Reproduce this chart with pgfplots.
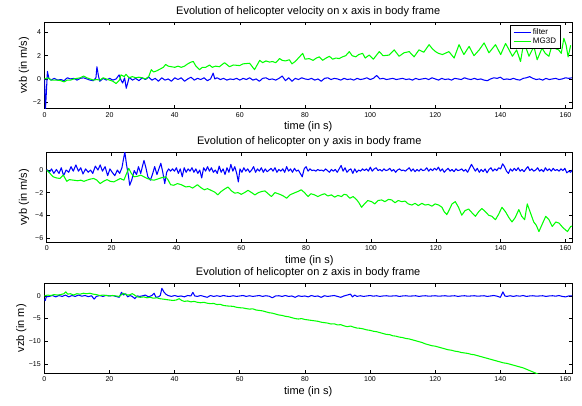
\documentclass[border=0pt]{standalone}
\usepackage{fontspec}
\setmainfont{Liberation Sans}
\usepackage{pgfplots}
\pgfplotsset{compat=1.18}
\definecolor{mblue}{rgb}{0,0,1}
\definecolor{mgreen}{rgb}{0,1,0}
\pgfplotsset{
  myax/.style={
    scale only axis, anchor=south west,
    xmin=0, xmax=162, xtick={0,20,...,160},
    tick align=inside, major tick length=3.3pt,
    tick style={black, line width=0.5pt},
    axis line style={line width=0.8pt},
    ticklabel style={font=\fontsize{7}{8}\selectfont},
    /pgf/number format/assume math mode=true,
    label style={font=\fontsize{11}{13}\selectfont},
    title style={font=\fontsize{11}{13}\selectfont, at={(axis description cs:0.5,1)}, anchor=south, yshift=-4.5pt},
    xlabel style={at={(axis description cs:0.5,0)}, anchor=center, yshift=-18pt},
    every axis plot/.append style={line width=1.05pt, line join=round},
    xlabel={time (in s)},
  }
}
\begin{document}
\begin{tikzpicture}
\useasboundingbox (0,0) rectangle (582pt,405pt);
% ---------------- plot 1 ----------------
\begin{axis}[myax, at={(44.5pt,296.3pt)}, width=527.5pt, height=86.7pt,
  ymin=-2.56, ymax=4.9, ytick={-2,0,2,4}, yticklabels={−2,0,2,4},
  title={Evolution of helicopter velocity on x axis in body frame},
  ylabel={vxb (in m/s)},
  ylabel style={at={(axis description cs:-0.0389,0.5)}, anchor=center},
  legend style={at={(axis description cs:1,1)}, anchor=north east, xshift=-11pt, yshift=-3pt,
    font=\fontsize{8}{9}\selectfont, draw=black, line width=0.8pt, inner xsep=2.5pt, inner ysep=1pt,
    row sep=-1.5pt, cells={anchor=west}},
  legend image code/.code={\draw[#1, line width=0.9pt] (0pt,0pt) -- (17pt,0pt);},
]
\addplot[mblue] coordinates {
(0,0) (0.3,-2.6) (0.6,-1.0) (0.9,0.65) (1.3,0.1) (2,-0.1) (3,0.05) (4,-0.1) (5,-0.05) (6,-0.15) (7,0.1) (8,0.0) (9,0.05) (10,-0.1) (11,0.05) (12,0.1) (13,0.0) (14,-0.1) (15,-0.15) (15.8,0.1) (16.1,1.05) (16.6,0.2) (17,-0.2) (18,0.05) (19,-0.1) (20,0.05) (21,-0.1) (22,0.0) (22.9,0.35) (23.5,-0.1) (24,-0.35) (24.6,0.1) (25.1,-0.8) (25.6,-0.3) (26,0.15) (27,-0.1) (28,0.05) (29,-0.15) (30,0.1) (31,-0.05) (32,0.15) (33,-0.1) (34,0.05) (35,-0.2) (36,0.1) (37,-0.1) (38,0.0) (39,-0.2) (40,0.1) (41,-0.05) (42,0.1) (43,-0.2) (44,0.0) (45,0.15) (46,-0.1) (47,0.05) (48,-0.05) (49,0.1) (50,-0.15) (51,0.0) (51.8,0.5) (52.3,0.0) (53,0.1) (54,-0.05) (55,0.05) (56,-0.1) (57,0.0) (58,-0.05) (59,0.05) (60,-0.1) (61,0.05) (62,-0.05) (63,0.1) (64,-0.1) (65,0.0) (66,-0.2) (67,0.05) (68,0.1) (69,-0.05) (70,0.0) (71,-0.1) (72,0.05) (73,0.25) (74,-0.15) (75,0.1) (76,-0.2) (77,0.05) (78,-0.05) (79,0.1) (80,0.0) (81,-0.05) (82,0.05) (83,-0.1) (84,0.0) (85,-0.2) (86,0.05) (87,0.1) (88,-0.05) (89,0.05) (90,0.0) (91,-0.1) (92,0.05) (93,-0.05) (94,0.0) (95,-0.1) (96,0.05) (97,-0.05) (98,0.0) (99,0.1) (100,-0.05) (101,0.05) (102,0.3) (103,0.0) (104,0.05) (105,-0.05) (106,0.0) (107,0.05) (108,-0.05) (109,0.0) (110,0.05) (111,-0.05) (112,0.0) (113,-0.1) (114,0.05) (115,-0.05) (116,0.0) (117,0.05) (118,-0.05) (119,0.1) (120,0.0) (121,-0.1) (122,0.05) (123,-0.05) (124,0.0) (125,-0.1) (126,0.05) (127,0.0) (128,-0.05) (129,0.1) (130,0.0) (131,-0.05) (132,0.05) (133,-0.05) (134,0.0) (135,-0.1) (136,-0.15) (137,0.0) (138,0.1) (139,0.05) (140,0.15) (141,-0.05) (142,0.0) (143,-0.05) (144,0.05) (145,-0.05) (146,-0.1) (147,0.05) (148,0.1) (149,0.2) (150,0.05) (151,-0.05) (152,0.0) (153,-0.1) (154,0.05) (155,-0.05) (156,0.0) (157,0.05) (158,-0.05) (159,0.0) (160,0.1) (161,0.05) (162,0.1)
};
\addplot[mgreen] coordinates {
(0,0) (1,0.1) (2,-0.1) (3,-0.1) (4,-0.1) (5,-0.15) (6,-0.25) (7,-0.1) (8,-0.1) (9,0.0) (10,0.05) (11,0.1) (12,0.25) (13,0.1) (14,0.0) (15,-0.1) (16,-0.05) (17,-0.1) (18,0.1) (19,0.0) (20,-0.1) (21,-0.2) (22,-0.4) (23,-0.1) (23.5,0.35) (24.5,0.2) (25,0.4) (26,0.1) (27,0.2) (28,0.1) (29,0.15) (30,0.1) (31,0.0) (32,0.2) (32.8,0.8) (33.5,0.6) (34.5,0.7) (35.5,0.85) (36.5,1.0) (37.2,1.25) (38,1.1) (39,1.05) (40,1.0) (41,1.1) (42,1.0) (43,1.1) (44,1.3) (45,1.45) (45.7,1.5) (46.5,1.1) (47.6,0.8) (48.5,1.0) (49.5,1.0) (50.7,1.2) (51.5,1.0) (52.5,1.1) (53.7,1.05) (55.3,1.4) (56.8,1.05) (58,1.2) (59.9,1.15) (61,1.3) (63,1.35) (64.5,0.8) (65.3,1.2) (66.1,1.6) (67,1.4) (68,1.55) (69.1,1.45) (70,1.5) (71,1.4) (72.2,1.75) (73,1.6) (74,1.55) (75.2,1.65) (76,1.3) (77,1.5) (78.3,1.9) (79.3,2.2) (80,1.7) (81.3,1.75) (82.5,1.6) (83.5,1.8) (84.4,1.9) (85.4,1.6) (86.5,1.8) (87.5,1.95) (88.5,1.7) (89.5,1.8) (90.5,1.75) (91.5,1.9) (92.5,2.0) (93.6,2.35) (94.5,2.0) (95.6,1.9) (96.5,2.1) (97.7,2.2) (98.5,1.8) (99.7,2.05) (101,1.7) (102.8,2.35) (104,2.0) (105.8,2.05) (107.4,2.5) (108.9,1.95) (110.4,2.25) (112,2.35) (113.5,1.9) (115,2.5) (116.5,2.3) (118.1,2.95) (119.1,2.6) (120.1,2.35) (121,2.2) (122.2,2.1) (124.2,2.35) (125.8,1.8) (127.3,2.95) (128.8,2.1) (130.4,2.8) (131.9,2.0) (133.5,2.5) (135,3.1) (136.5,2.25) (137.5,2.6) (138.5,2.95) (140.1,2.1) (141.6,3.05) (142.5,2.6) (143.7,1.95) (145,2.5) (146.2,1.5) (147.2,3.2) (148.8,1.95) (150.3,2.8) (151.3,1.65) (152.8,2.65) (153.8,2.2) (154.9,1.95) (155.9,2.95) (157,2.6) (157.9,2.5) (158.7,2.2) (159.5,3.5) (160.2,2.9) (160.8,1.9) (161.6,2.9)
};
\legend{filter,MG3D}
\end{axis}
% ---------------- plot 2 ----------------
\begin{axis}[myax, at={(46.7pt,162.7pt)}, width=525.3pt, height=90pt,
  ymin=-6.4, ymax=1.57, ytick={-6,-4,-2,0}, yticklabels={−6,−4,−2,0},
  title={Evolution of helicopter on y axis in body frame},
  ylabel={vyb (in m/s)},
  ylabel style={at={(axis description cs:-0.0432,0.5)}, anchor=center},
]
\addplot[mblue] coordinates {
(0,0.05) (0.8,-0.2) (1.5,0.1) (2.2,-0.3) (3,0.05) (3.8,-0.3) (4.5,0.2) (5.2,-0.5) (6,0.0) (6.8,-0.2) (7.5,0.3) (8.2,-0.1) (9,0.45) (9.8,-0.1) (10.5,0.2) (11.2,-0.35) (12,0.1) (12.8,-0.2) (13.5,0.0) (14.2,-0.3) (15,0.35) (15.8,0.0) (16.5,0.45) (17.2,-0.1) (18,0.3) (18.8,-0.5) (19.5,0.1) (20.2,-0.2) (21,-0.5) (21.8,0.0) (22.5,-0.3) (23.2,0.2) (23.7,1.0) (24.1,1.6) (24.6,0.5) (25.2,-0.5) (25.6,-1.35) (26.2,-0.9) (27,-0.05) (27.7,-0.4) (28.3,0.3) (29,-0.3) (29.5,0.3) (30,0.85) (30.6,0.2) (31.2,-0.6) (32,-0.9) (32.7,-0.3) (33.3,0.3) (34,-0.4) (34.6,0.1) (35.2,0.6) (35.8,-0.2) (36.4,-1.2) (37,-0.2) (37.6,0.1) (38.2,-0.1) (38.8,0.1) (39.4,-0.1) (40,0.2) (40.6,-0.3) (41.2,0.1) (41.8,-0.6) (42.4,0.2) (43,-0.2) (43.6,0.1) (44.2,-0.1) (44.8,0.2) (45.4,-0.2) (46,0.1) (46.6,-0.3) (47.2,0.0) (47.8,-0.7) (48.4,0.2) (49,-0.1) (49.6,0.3) (50.2,-0.1) (50.8,0.2) (51.4,-0.2) (52,0.0) (52.6,-0.3) (53.2,0.35) (53.8,-0.2) (54.4,0.1) (55,-0.4) (55.6,0.2) (56.2,-0.2) (56.8,0.5) (57.4,-0.1) (58,0.3) (58.6,-0.3) (59.1,-1.05) (59.6,0.1) (60.2,-0.2) (60.8,0.2) (61.4,-0.1) (62,0.1) (62.6,-0.2) (63.2,0.0) (63.8,0.3) (64.4,-0.2) (65,0.1) (65.6,-0.1) (66.2,0.2) (66.8,-0.2) (67.4,0.1) (68,-0.15) (68.6,0.0) (69.2,0.15) (69.8,-0.1) (70.4,0.2) (71,-0.2) (71.6,0.05) (72.2,-0.1) (72.8,0.1) (73.4,-0.2) (74,0.3) (74.6,-0.1) (75.2,0.1) (75.8,-0.2) (76.4,0.15) (77,-0.1) (77.6,0.0) (78.2,-0.3) (78.8,-0.6) (79.4,0.1) (80,0.3) (80.6,-0.1) (81.2,0.1) (81.8,-0.05) (82.4,0.0) (83,-0.1) (83.6,0.05) (84.2,-0.05) (84.8,0.0) (85.4,-0.1) (86,0.1) (86.6,-0.05) (87.2,-0.2) (87.8,0.05) (88.4,-0.1) (89,0.05) (89.6,-0.2) (90.2,0.1) (90.8,0.4) (91.4,-0.1) (92,0.2) (92.6,-0.2) (93.2,0.0) (93.8,0.1) (94.4,-0.3) (95,0.1) (95.6,-0.2) (96.2,0.0) (96.8,-0.1) (97.4,0.1) (98,-0.05) (98.6,0.1) (99.2,-0.1) (99.8,0.25) (100.4,-0.1) (101,0.1) (101.6,0.2) (102.2,-0.05) (102.8,0.05) (103.4,-0.1) (104,0.1) (104.6,-0.05) (105.2,0.0) (105.8,0.15) (106.4,-0.1) (107,0.05) (107.6,-0.2) (108.2,0.0) (108.8,0.1) (109.4,-0.05) (110,0.0) (110.6,-0.1) (111.2,0.05) (111.8,0.2) (112.4,-0.1) (113,0.1) (113.6,-0.15) (114.2,0.05) (114.8,-0.1) (115.4,0.1) (116,-0.05) (116.6,0.0) (117.2,0.2) (117.8,-0.1) (118.4,0.1) (119,-0.05) (119.6,0.15) (120.2,0.0) (120.8,0.25) (121.4,-0.1) (122,0.1) (122.6,-0.2) (123.2,0.0) (123.8,0.15) (124.4,-0.1) (125,0.05) (125.6,-0.15) (126.2,0.1) (126.8,-0.05) (127.4,0.0) (128,0.1) (128.6,-0.1) (129.2,0.05) (129.8,-0.2) (130.4,0.15) (131,0.5) (131.6,0.2) (132.2,-0.1) (132.8,0.15) (133.4,-0.2) (134,0.05) (134.6,-0.15) (135.2,0.1) (135.8,-0.25) (136.4,0.05) (137,0.2) (137.6,-0.1) (138.2,0.1) (138.8,-0.05) (139.4,0.2) (140,0.1) (140.6,0.55) (141.2,0.3) (141.8,-0.1) (142.4,-0.3) (143,0.1) (143.6,-0.1) (144.2,0.15) (144.8,-0.05) (145.4,0.2) (146,-0.1) (146.6,0.05) (147.2,-0.15) (147.8,0.1) (148.4,0.3) (149,-0.05) (149.6,0.1) (150.2,-0.1) (150.8,0.0) (151.4,0.2) (152,-0.1) (152.6,0.05) (153.2,-0.15) (153.8,0.2) (154.4,-0.05) (155,0.1) (155.6,-0.1) (156.2,0.15) (156.8,-0.05) (157.4,0.05) (158,-0.1) (158.6,0.1) (159.2,-0.05) (159.8,0.15) (160.4,-0.25) (161,-0.1) (161.6,-0.2) (162,0.0)
};
\addplot[mgreen] coordinates {
(0,0) (1,-0.3) (2,-0.6) (3,-0.7) (4.1,-0.75) (5.1,-0.45) (6.2,-1.0) (7,-0.85) (8.3,-0.9) (9.5,-0.95) (10.5,-0.9) (11.5,-1.0) (12.4,-0.9) (13.5,-0.8) (14.5,-0.75) (15.5,-0.9) (16.5,-1.2) (17.5,-1.0) (18.6,-0.85) (19.6,-1.0) (20.7,-1.05) (21.7,-0.9) (22.7,-0.75) (23.8,-0.9) (24.5,-0.4) (25.3,0.15) (26.1,-0.3) (26.9,-0.6) (28,-0.55) (29,-0.45) (30,-0.6) (31,-0.75) (32,-0.85) (33.1,-0.9) (34.2,-0.8) (35.2,-0.7) (36.7,-0.6) (37.5,-0.9) (38.2,-1.3) (39.2,-1.35) (40.3,-1.2) (41.5,-1.3) (42.9,-1.5) (44,-1.45) (45,-1.6) (46.5,-1.3) (47.5,-1.55) (48.6,-1.75) (49.6,-1.65) (50.7,-1.8) (51.8,-1.95) (52.8,-2.2) (53.8,-1.9) (54.8,-1.7) (55.9,-1.5) (57,-1.85) (58,-2.05) (59,-2.0) (60,-2.15) (61,-2.0) (62.1,-1.8) (63.2,-2.0) (64.2,-2.2) (65.3,-2.0) (66.3,-1.9) (67.3,-1.85) (68.3,-2.1) (69.3,-2.35) (70.4,-2.0) (71.4,-2.1) (72.3,-2.2) (73,-2.3) (74,-2.5) (75,-2.2) (76.6,-2.0) (77.5,-1.9) (78.5,-1.75) (79.5,-2.0) (80.6,-2.35) (81.5,-2.1) (82.6,-2.2) (83.6,-2.35) (84.7,-2.2) (85.7,-2.1) (86.7,-2.3) (87.8,-2.2) (88.8,-2.4) (89.8,-2.25) (90.9,-2.35) (91.7,-2.15) (92.5,-2.2) (93.5,-2.5) (94.5,-2.35) (95.5,-2.6) (96.3,-2.9) (97.1,-3.3) (98,-3.0) (99,-2.7) (100.2,-2.8) (101.2,-3.0) (102.2,-2.7) (103.3,-2.65) (104.3,-2.8) (105.4,-2.6) (106.4,-2.65) (107.4,-2.9) (108.4,-2.7) (109.5,-2.8) (110.5,-2.75) (111.5,-3.0) (112.6,-3.1) (113.6,-2.95) (114.6,-3.15) (115.7,-2.95) (116.7,-3.1) (117.7,-3.05) (118.8,-3.2) (119.8,-3.0) (120.9,-3.1) (121.9,-3.3) (122.6,-3.7) (123.4,-3.95) (124.2,-3.5) (125,-3.0) (126,-2.8) (127,-3.3) (128,-4.0) (129,-3.6) (130.1,-3.45) (131.2,-3.8) (132.2,-4.1) (133.2,-3.7) (134.2,-3.4) (135.3,-3.7) (136.3,-4.0) (137.3,-4.1) (138.4,-4.4) (139.4,-3.9) (140.4,-3.3) (141.5,-3.7) (142.5,-4.2) (143.5,-4.6) (144.5,-4.2) (145.6,-3.5) (146.5,-4.1) (147.4,-4.4) (148.2,-3.0) (149.2,-3.8) (150.2,-4.6) (151,-4.9) (151.8,-5.45) (152.8,-4.8) (153.9,-4.1) (154.9,-4.4) (155.9,-5.0) (157,-4.6) (158,-4.7) (159.2,-5.1) (160.6,-5.45) (161.6,-5.0) (162.7,-4.9)
};
\end{axis}
% ---------------- plot 3 ----------------
\begin{axis}[myax, at={(44.3pt,31.7pt)}, width=527.7pt, height=90pt,
  ymin=-17.1, ymax=2.8, ytick={-15,-10,-5,0}, yticklabels={−15,−10,−5,0},
  title={Evolution of helicopter on z axis in body frame},
  ylabel={vzb (in m)},
  ylabel style={at={(axis description cs:-0.0436,0.5)}, anchor=center},
]
\addplot[mblue] coordinates {
(0,-0.7) (0.3,-1.0) (0.6,-0.2) (1.5,-0.1) (2.5,0.1) (3.5,-0.2) (4.5,0.1) (5.5,-0.1) (6.5,0.2) (7.5,-0.2) (8.5,0.1) (9.5,-0.1) (10.5,0.2) (11.5,-0.05) (12.5,0.1) (13.5,-0.15) (14.5,0.05) (15.3,-0.7) (16,-0.1) (17,0.1) (18,-0.1) (19,0.15) (20,0.0) (21,0.1) (22,-0.1) (23,-0.3) (23.7,0.8) (24.3,0.2) (25,0.5) (25.6,-0.2) (26.3,0.1) (27,-0.1) (27.8,-0.6) (28.5,0.0) (29.3,-0.1) (30,0.0) (31,0.2) (32,-0.2) (33,0.1) (33.7,0.6) (34.3,-0.3) (35,-0.2) (35.6,0.1) (36.1,1.7) (36.7,0.9) (37.3,0.4) (38,0.1) (39,-0.1) (40,0.1) (41,-0.1) (42,0.0) (43,-0.2) (44,0.1) (45,0.0) (45.6,0.8) (46.2,0.0) (47,-0.1) (48,0.1) (49,-0.1) (50,-0.3) (51,0.1) (52,-0.1) (53,0.05) (54,-0.1) (55,0.1) (56,-0.05) (57,-0.1) (58,0.05) (59,-0.1) (60,0.0) (61,0.1) (62,-0.1) (63,0.05) (64,-0.1) (65,0.0) (66,0.1) (67,-0.1) (68,0.05) (69,-0.05) (70,-0.4) (71,0.0) (72,0.05) (73,-0.1) (74,0.1) (75,-0.1) (76,0.0) (77,-0.3) (78,0.05) (79,-0.1) (80,0.0) (81,-0.2) (82,0.1) (83,-0.1) (84,0.0) (85,-0.3) (86,0.05) (87,-0.1) (88,0.0) (89,0.1) (90,-0.1) (91,-0.3) (92,0.0) (93,0.2) (94,0.4) (94.6,-0.2) (95.3,0.2) (96,-0.1) (97,0.05) (98,-0.1) (99,0.0) (100,0.1) (101,-0.05) (102,0.05) (103,-0.1) (104,0.0) (105,0.05) (106,-0.05) (107,0.0) (108,0.05) (109,-0.1) (110,0.0) (111,0.05) (112,-0.05) (113,0.0) (114,0.05) (115,-0.1) (116,0.0) (117,0.05) (118,-0.05) (119,0.0) (120,0.05) (121,-0.05) (122,0.0) (123,0.05) (124,-0.05) (125,0.0) (126,0.05) (127,-0.1) (128,0.0) (129,0.05) (130,-0.05) (131,0.0) (132,0.05) (133,-0.05) (134,0.0) (135,0.05) (136,-0.1) (137,0.0) (138,0.1) (139,-0.05) (140,-0.3) (140.8,0.9) (141.4,0.0) (142,-0.1) (143,0.05) (144,-0.1) (145,0.05) (146,-0.05) (147,0.1) (148,-0.1) (149,0.0) (150,0.05) (151,-0.05) (152,0.0) (153,0.05) (154,-0.1) (155,0.0) (156,0.05) (157,-0.05) (158,0.1) (159,-0.1) (160,-0.2) (161,0.0) (162,0.0)
};
\addplot[mgreen] coordinates {
(0,0) (1,0.2) (2,0.1) (3,0.3) (4,0.2) (5,0.3) (6,0.5) (6.6,0.9) (7.2,0.4) (8,0.5) (9,0.2) (10,0.5) (11,0.4) (12,0.6) (13,0.5) (14,0.6) (15,0.4) (16,0.3) (17,0.1) (18,0.2) (19,0.1) (20,0.0) (21,0.1) (22,0.0) (23,-0.1) (24.3,0.6) (25,0.3) (26,0.2) (27,0.5) (27.5,0.3) (28.5,-0.2) (29.5,-0.3) (30.5,-0.2) (31.5,-0.4) (32.5,-0.3) (33.5,-0.5) (34.5,-0.4) (35.5,-0.6) (36.5,-0.7) (37.5,-0.8) (38.5,-0.9) (39.5,-1.0) (40.5,-0.9) (41.4,-0.6) (42.2,-1.0) (43,-1.2) (44,-1.1) (45,-1.3) (46,-1.2) (47,-1.4) (48,-1.5) (49,-1.4) (50,-1.6) (51,-1.7) (52,-1.65) (53,-1.9) (54,-1.85) (55,-2.1) (56,-2.2) (57,-2.25) (58,-2.3) (59,-2.5) (60,-2.6) (61,-2.65) (62,-2.8) (63,-2.9) (64,-2.85) (65,-3.1) (66,-3.2) (67,-3.3) (68,-3.5) (69,-3.7) (70,-3.8) (71,-4.0) (72,-4.2) (73,-4.3) (74,-4.5) (75,-4.6) (76,-4.8) (77,-5.0) (78,-5.1) (79,-5.0) (80,-5.2) (81,-5.3) (82,-5.4) (83,-5.5) (84,-5.6) (85,-5.8) (86,-5.9) (87,-6.0) (88,-6.2) (89,-6.15) (90,-6.4) (91,-6.35) (92,-6.6) (93,-6.8) (94,-6.65) (95,-6.9) (96,-7.1) (97,-7.15) (98,-7.3) (99,-7.5) (100,-7.6) (101,-7.8) (102,-7.9) (103,-8.1) (104,-8.3) (105,-8.5) (106,-8.55) (107,-8.8) (108,-8.9) (109,-9.1) (110,-9.2) (111,-9.4) (112,-9.5) (113,-9.7) (114,-9.9) (115,-10.1) (116,-10.3) (117,-10.6) (118,-10.8) (119,-11.0) (120,-11.1) (121,-11.3) (122,-11.5) (123,-11.7) (124,-11.9) (125,-12.0) (126,-12.2) (127,-12.3) (128,-12.5) (129,-12.6) (130,-12.7) (131,-12.9) (132,-13.0) (133,-13.2) (134,-13.4) (135,-13.6) (136,-13.8) (137,-14.0) (138,-14.2) (139,-14.4) (140,-14.6) (141,-14.8) (142,-14.9) (143,-15.1) (144,-15.3) (145,-15.5) (146,-15.7) (147,-15.9) (148,-16.2) (149,-16.5) (150,-16.8) (151,-17.1) (152,-17.5) (153,-17.9)
};
\end{axis}
\end{tikzpicture}
\end{document}
